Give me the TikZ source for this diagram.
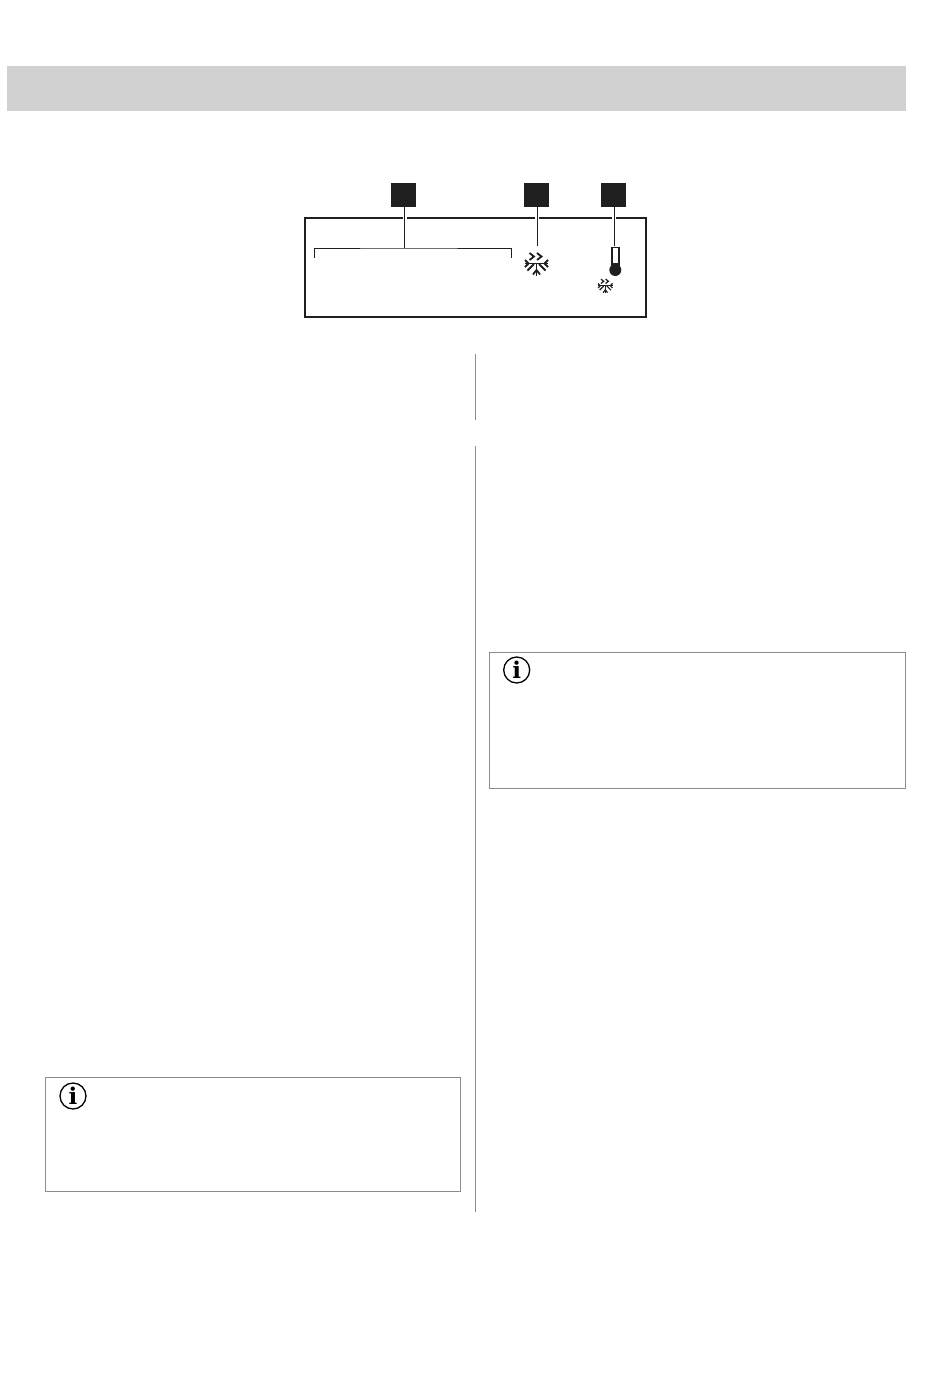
\documentclass[tikz,border=0pt]{standalone}
\usepackage{fontspec}
\usetikzlibrary{positioning}
\newfontfamily\infofont{DejaVu Serif}
\definecolor{bandgray}{gray}{0.82}
\definecolor{rulegray}{gray}{0.55}
\definecolor{badgeblack}{gray}{0.12}
\tikzset{
  band/.style={fill=bandgray,draw=none,minimum width=899pt,minimum height=45pt,inner sep=0pt},
  badge/.style={fill=badgeblack,draw=none,minimum size=24.5pt,inner sep=0pt},
  display/.style={draw=badgeblack,line width=2pt,minimum width=341pt,minimum height=99pt,inner sep=0pt},
  notebox/.style={draw=rulegray,line width=1pt,inner sep=0pt},
  infomark/.style={circle,draw=black,line width=1.3pt,minimum size=26pt,inner sep=0pt,font=\infofont\bfseries\fontsize{23pt}{23pt}\selectfont},
  leader/.style={draw=badgeblack,line width=1pt},
  halo/.style={draw=white,line width=4pt},
  divider/.style={draw=rulegray,line width=1pt},
  flakeA/.style={draw=badgeblack,line width=1.8pt},
  flakeB/.style={draw=badgeblack,line width=1.2pt,scale=0.63},
  flake/.pic={
    \draw (-11.5,0) -- (11.5,0);
    \draw (0,0) -- (0,12);
    \draw (-3.5,11) -- (0,6.5) -- (3.5,11);
    \draw (-2.5,0.5) -- (-9,7);
    \draw (2.5,0.5) -- (9,7);
    \draw (-11.5,-3.5) -- (-8,0) -- (-11.5,3.5);
    \draw (11.5,-3.5) -- (8,0) -- (11.5,3.5);
    \draw (-7,-10.5) -- (-2.5,-7) -- (-7,-3.5);
    \draw (0.5,-10.5) -- (5,-7) -- (0.5,-3.5);
  }
}
\begin{document}
\begin{tikzpicture}[x=1pt,y=-1pt]
  \useasboundingbox (0,0) rectangle (950,1374);

  \node[band] (header) at (456.5,88.5) {};

  \node[display] (panel) at (475.3,267.2) {};
  \node[badge] (badgeA) at (403.5,195) {};
  \node[badge] (badgeB) at (536.5,195) {};
  \node[badge] (badgeC) at (613.5,195) {};

  \coordinate (braceL) at (314.7,257.7);
  \coordinate (braceR) at (511.7,257.7);
  \coordinate (braceTop) at (404.7,248);
  \coordinate (flakeTop) at (537.3,246);
  \coordinate (thermoTop) at (614.3,246);

  \draw[halo] (404.7,214) -- (404.7,222);
  \draw[halo] (537.3,214) -- (537.3,222);
  \draw[halo] (614.3,214) -- (614.3,222);
  \draw[leader] (badgeA.south -| braceTop) -- (braceTop);
  \draw[leader] (badgeB.south -| flakeTop) -- (flakeTop);
  \draw[leader] (badgeC.south -| thermoTop) -- (thermoTop);
  \draw[leader] (braceL) |- (braceTop) -| (braceR);

  \pic[flakeA] at (536.5,263.5) {flake};
  \pic[flakeB] at (605.3,285.7) {flake};

  \draw[draw=badgeblack,fill=white,line width=1.8pt] (611.9,266) -- (611.9,247.5) -- (619,247.5) -- (619,266);
  \fill[badgeblack] (611,263) rectangle (620,268);
  \node[circle,fill=badgeblack,minimum size=12pt,inner sep=0pt] (bulb) at (615.3,270) {};

  \draw[divider] (475.5,354) -- (475.5,420);
  \draw[divider] (475.5,446) -- (475.5,1212);

  \node[notebox,minimum width=416.5pt,minimum height=136pt] (noteR) at (697.3,720.5) {};
  \node[infomark] (infoR) at (516.7,670) {i};

  \node[notebox,minimum width=415.5pt,minimum height=114pt] (noteL) at (253.2,1134) {};
  \node[infomark] (infoL) at (73,1096) {i};
\end{tikzpicture}
\end{document}
